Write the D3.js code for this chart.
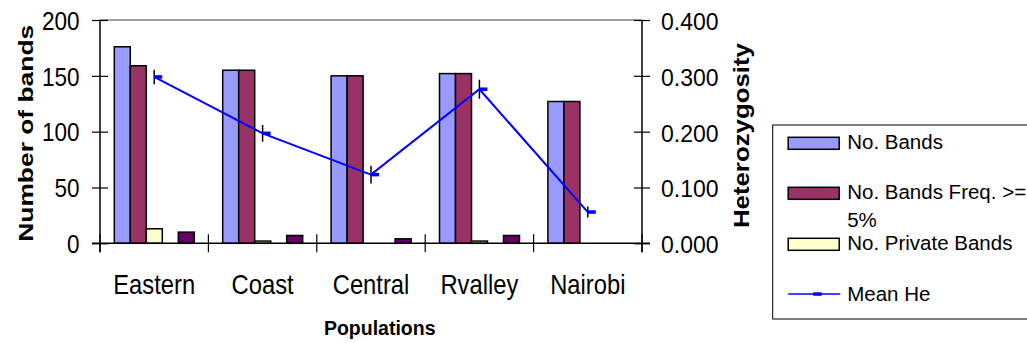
<!DOCTYPE html>
<html>
<head>
<meta charset="utf-8">
<script src="https://cdn.jsdelivr.net/npm/d3@7"></script>
<style>
  body { margin: 0; background: #fff; }
  svg { font-family: "Liberation Sans", Arial, sans-serif; }
</style>
</head>
<body>
<svg id="chart" width="1027" height="343"></svg>
<script>
// data
const categories = ["Eastern", "Coast", "Central", "Rvalley", "Nairobi"];
const noBands = [176, 155, 150, 152, 127];
const noBandsFreq5 = [159, 155, 150, 152, 127];
const noPrivateBands = [13, 2, 0, 2, 0];
const otherBands = [10, 7, 4, 7, 0];
const meanHe = [0.298, 0.197, 0.123, 0.276, 0.056];
const meanHeErr = [0.013, 0.015, 0.016, 0.017, 0.010];
const leftTicks = [0, 50, 100, 150, 200];
const rightTicks = [0, 0.1, 0.2, 0.3, 0.4];

const series = [
  { key: "nb", name: "No. Bands", values: noBands, color: "#9999FF" },
  { key: "nb5", name: "No. Bands Freq. >=", values: noBandsFreq5, color: "#993366" },
  { key: "npb", name: "No. Private Bands", values: noPrivateBands, color: "#FFFFCC" },
  { key: "other", name: "", values: otherBands, color: "#660066" }
];
// slot 4 stays empty in the original chart
const slots = ["nb", "nb5", "npb", "blank", "other"];

const svg = d3.select("#chart");
const plotL = 100, plotR = 642, plotT = 20, plotB = 243.3;

const x0 = d3.scaleBand().domain(categories).range([plotL, plotR]);
const x1 = d3.scaleBand().domain(slots).range([14.3, 94.3]);
const y = d3.scaleLinear().domain([0, 200]).range([plotB, plotT]);
const y2 = d3.scaleLinear().domain([0, 0.4]).range([plotB, plotT]);

// plot frame: grey top line
svg.append("line")
  .attr("x1", plotL).attr("x2", plotR)
  .attr("y1", plotT).attr("y2", plotT)
  .attr("stroke", "#808080").attr("stroke-width", 1.5);

// bars
series.forEach(s => {
  svg.append("g").selectAll("rect")
    .data(categories.map((c, i) => ({ c: c, v: s.values[i] })).filter(d => d.v > 0))
    .join("rect")
    .attr("x", d => x0(d.c) + x1(s.key))
    .attr("width", x1.bandwidth())
    .attr("y", d => y(d.v))
    .attr("height", d => y(0) - y(d.v))
    .attr("fill", s.color)
    .attr("stroke", "#000")
    .attr("stroke-width", 1.5);
});

// left axis
const axL = svg.append("g")
  .attr("transform", "translate(" + plotL + ",0)")
  .call(d3.axisLeft(y).tickValues(leftTicks).tickSize(8).tickFormat(d3.format("d")));
axL.select(".domain").remove();
axL.selectAll(".tick line").attr("x1", 8).attr("stroke", "#000").attr("stroke-width", 1.2);
axL.selectAll(".tick text")
  .attr("x", null).attr("dy", null)
  .attr("transform", "translate(-20.4,9.3) scale(0.9,1)")
  .attr("font-size", 25).attr("fill", "#000");
svg.append("line")
  .attr("x1", plotL).attr("x2", plotL).attr("y1", plotT).attr("y2", plotB + 9)
  .attr("stroke", "#000").attr("stroke-width", 1.5);

// right axis
const axR = svg.append("g")
  .attr("transform", "translate(" + plotR + ",0)")
  .call(d3.axisRight(y2).tickValues(rightTicks).tickSize(8).tickFormat(d3.format(".3f")));
axR.select(".domain").remove();
axR.selectAll(".tick line").attr("x1", -8).attr("stroke", "#000").attr("stroke-width", 1.2);
axR.selectAll(".tick text")
  .attr("x", 19).attr("dy", null).attr("y", 9.5)
  .attr("font-size", 23).attr("fill", "#000");
svg.append("line")
  .attr("x1", plotR).attr("x2", plotR).attr("y1", plotT).attr("y2", plotB + 9)
  .attr("stroke", "#000").attr("stroke-width", 1.5);

// bottom axis with crossing category ticks
svg.append("line")
  .attr("x1", plotL - 8).attr("x2", plotR + 8).attr("y1", plotB).attr("y2", plotB)
  .attr("stroke", "#000").attr("stroke-width", 1.5);
svg.append("g").selectAll("line")
  .data(categories.map(c => x0(c)).concat([x0.range()[1]]))
  .join("line")
  .attr("x1", d => d).attr("x2", d => d)
  .attr("y1", plotB - 9).attr("y2", plotB + 9)
  .attr("stroke", "#000").attr("stroke-width", 1.2);

svg.append("g").selectAll("text")
  .data(categories)
  .join("text")
  .attr("transform", d => "translate(" + (x0(d) + x0.bandwidth() / 2) + ",294) scale(0.88,1)")
  .attr("text-anchor", "middle")
  .attr("font-size", 27)
  .text(d => d);

// Mean He line + error bars
const cx = c => x0(c) + x0.bandwidth() / 2;
const pts = categories.map((c, i) => ({ c: c, v: meanHe[i], e: meanHeErr[i] }));

svg.append("g").selectAll("line")
  .data(pts)
  .join("line")
  .attr("x1", d => cx(d.c)).attr("x2", d => cx(d.c))
  .attr("y1", d => y2(d.v - d.e)).attr("y2", d => y2(d.v + d.e))
  .attr("stroke", "#000").attr("stroke-width", 1.5);

svg.append("path")
  .datum(pts)
  .attr("fill", "none")
  .attr("stroke", "#0000FF")
  .attr("stroke-width", 2)
  .attr("d", d3.line().x(d => cx(d.c)).y(d => y2(d.v)));

svg.append("g").selectAll("rect")
  .data(pts)
  .join("rect")
  .attr("x", d => cx(d.c)).attr("width", 8)
  .attr("y", d => y2(d.v) - 1.75).attr("height", 3.5)
  .attr("fill", "#0000FF");

// axis titles
svg.append("text")
  .attr("transform", "translate(33.3,133.3) rotate(-90)")
  .attr("text-anchor", "middle")
  .attr("font-size", 21).attr("font-weight", "bold")
  .attr("textLength", 217).attr("lengthAdjust", "spacingAndGlyphs")
  .text("Number of bands");

svg.append("text")
  .attr("transform", "translate(748.5,135.6) rotate(-90)")
  .attr("text-anchor", "middle")
  .attr("font-size", 21.6).attr("font-weight", "bold")
  .attr("textLength", 185).attr("lengthAdjust", "spacingAndGlyphs")
  .text("Heterozygosity");

svg.append("text")
  .attr("x", 379.7).attr("y", 335)
  .attr("text-anchor", "middle")
  .attr("font-size", 19.5).attr("font-weight", "bold")
  .text("Populations");

// legend
const lg = svg.append("g").attr("transform", "translate(772.7,125)");
lg.append("rect")
  .attr("width", 300).attr("height", 194)
  .attr("fill", "#fff").attr("stroke", "#000").attr("stroke-width", 1);

const legendRows = [
  { s: series[0], sy: 12.3, ty: 24 },
  { s: series[1], sy: 62.3, ty: 74.3 },
  { s: series[2], sy: 113.3, ty: 125 }
];
legendRows.forEach(r => {
  lg.append("rect")
    .attr("x", 15.5).attr("y", r.sy).attr("width", 51).attr("height", 12)
    .attr("fill", r.s.color).attr("stroke", "#000").attr("stroke-width", 1.5);
  lg.append("text")
    .attr("x", 74.5).attr("y", r.ty)
    .attr("font-size", 20.5)
    .text(r.s.name);
});
lg.append("text")
  .attr("x", 74.5).attr("y", 102)
  .attr("font-size", 20.5)
  .text("5%");

lg.append("line")
  .attr("x1", 15.5).attr("x2", 67.5).attr("y1", 169).attr("y2", 169)
  .attr("stroke", "#0000FF").attr("stroke-width", 1.5);
lg.append("rect")
  .attr("x", 40.5).attr("y", 167.3).attr("width", 8.5).attr("height", 3.5)
  .attr("fill", "#0000FF");
lg.append("text")
  .attr("x", 74.5).attr("y", 175.7)
  .attr("font-size", 20.5)
  .text("Mean He");
</script>
</body>
</html>
